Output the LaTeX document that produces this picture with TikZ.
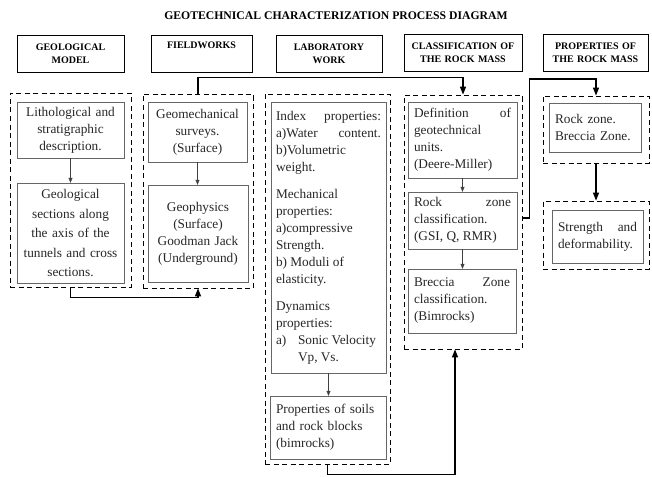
\documentclass[tikz,border=0pt]{standalone}
\usepackage{fontspec}
\setmainfont{Liberation Serif}
\usetikzlibrary{arrows.meta}

\tikzset{
  header/.style={draw, thick, align=center, inner sep=2pt,
    font=\bfseries\fontsize{10}{13}\selectfont},
  group/.style={draw, thick, dash pattern=on 5pt off 3.5pt},
  item/.style={draw=black!60, text=black!85, inner xsep=5pt, inner ysep=2pt,
    font=\fontsize{13.3}{17}\selectfont},
  flow/.style={very thick, -{Triangle[length=8pt,width=6pt]}},
  link/.style={black!75, -{Triangle[length=5pt,width=4pt]}},
  divider/.style={draw=black!70, double, double distance=1.2pt, thin},
}

\begin{document}
\begin{tikzpicture}[x=1pt,y=-1pt]
            \useasboundingbox (0,0) rectangle (652,476);
            % title and column heads
            \node[font=\bfseries\fontsize{11.7}{14}\selectfont] (title) at (336,16) {GEOTECHNICAL CHARACTERIZATION PROCESS DIAGRAM};
            \node[header, minimum width=107pt, minimum height=37pt, text width=103pt] (geoHead) at (70.5,53.5) {GEOLOGICAL\\MODEL};
            \node[header, minimum width=101pt, minimum height=37pt, text width=97pt] (fieldHead) at (201.5,53.5) {FIELDWORKS\\\strut};
            \node[header, minimum width=106pt, minimum height=37pt, text width=102pt] (labHead) at (329,53.5) {LABORATORY\\WORK};
            \node[header, minimum width=118pt, minimum height=37pt, text width=114pt] (classHead) at (463,53) {CLASSIFICATION OF\\THE ROCK MASS};
            \node[header, minimum width=105pt, minimum height=37pt, text width=101pt] (propHead) at (595.5,53) {PROPERTIES OF\\THE ROCK MASS};

            % dashed groups
            \node[group, minimum width=121pt, minimum height=194pt] (geoGroup) at (70.5,190) {};
            \node[group, minimum width=110pt, minimum height=194pt] (fieldGroup) at (198,191) {};
            \node[group, minimum width=125pt, minimum height=370pt] (labGroup) at (327.5,279) {};
            \node[group, minimum width=118pt, minimum height=254pt] (classGroup) at (463,222) {};
            \node[group, minimum width=106pt, minimum height=67pt] (zoneGroup) at (596,129.5) {};
            \node[group, minimum width=106pt, minimum height=68pt] (strengthGroup) at (596,235) {};

            % column dividers
            \draw[divider] (136,87) -- (136,288);
            \draw[divider] (258,87) -- (258,470);
            \draw[divider] (396,87) -- (396,462);
            \draw[divider, draw=black!45] (537,88) -- (537,288);

            % geological model
            \node[item, align=center, minimum width=107pt, minimum height=56pt, text width=95pt] (lithology) at (70.5,130) {Lithological and\\stratigraphic\\description.};
            \node[item, align=center, minimum width=107pt, minimum height=100pt, text width=95pt,
                  font=\fontsize{13.3}{19.5}\selectfont] (geoSections) at (70.5,233) {Geological\\sections along\\the axis of the\\tunnels and cross\\sections.};
            % fieldworks
            \node[item, align=center, minimum width=99pt, minimum height=60pt, text width=87pt] (geomech) at (197.5,132) {Geomechanical\\surveys.\\(Surface)};
            \node[item, align=center, minimum width=100pt, minimum height=97pt, text width=88pt] (geophysics) at (198,233.5) {Geophysics\\(Surface)\\Goodman Jack\\(Underground)};
            % laboratory work
            \node[item, align=justify, minimum width=115pt, minimum height=271pt, text width=105pt] (indexProps) at (328.5,237.5) {Index properties:\linebreak
                a)Water content.\linebreak
                b)Volumetric\\
                weight.\\[10pt]
                Mechanical\\
                properties:\\
                a)compressive\\
                Strength.\\
                b) Moduli of\\
                elasticity.\\[10pt]
                Dynamics\\
                properties:\\
                \makebox[22pt][l]{a)}Sonic Velocity\\
                \hspace*{22pt}Vp, Vs.};
            \node[item, align=left, minimum width=116pt, minimum height=63pt, text width=104pt] (soilProps) at (328,427.5) {Properties of soils\\and rock blocks\\(bimrocks)};
            % classification of the rock mass
            \node[item, align=justify, minimum width=109pt, minimum height=76pt, text width=97pt] (geoUnits) at (462.5,140) {Definition of\linebreak geotechnical\\units.\\(Deere-Miller)};
            \node[item, align=justify, minimum width=109pt, minimum height=57pt, text width=97pt] (rockZoneClass) at (462.5,220.5) {Rock zone\linebreak classification.\\(GSI, Q, RMR)};
            \node[item, align=justify, minimum width=108pt, minimum height=64pt, text width=96pt] (brecciaClass) at (462,301) {Breccia Zone\linebreak classification.\\(Bimrocks)};
            % properties of the rock mass
            \node[item, align=left, minimum width=92pt, minimum height=49pt, text width=80pt] (zones) at (595,127.5) {Rock zone.\\Breccia Zone.};
            \node[item, align=justify, minimum width=91pt, minimum height=53pt, text width=79pt] (strength) at (597.5,236.5) {Strength and\linebreak deformability.};

            % steps inside the groups
            \draw[link] (lithology) -- (geoSections);
            \draw[link] (geomech.south) -- (geomech.south |- geophysics.north);
            \draw[link] (indexProps.south) -- (indexProps.south |- soilProps.north);
            \draw[link] (geoUnits) -- (rockZoneClass);
            \draw[link] (rockZoneClass.south) -- (rockZoneClass.south |- brecciaClass.north);

            % flow between the groups
            \draw[flow] (geoGroup.south) -- ++(0,10) -| (fieldGroup.south);
            \draw[flow] (fieldGroup.north) -- ++(0,-16) -| (classGroup.north);
            \draw[flow] ([yshift=4pt]classGroup.east) -- ++(7,0) -- ++(0,-139) -| (zoneGroup.north);
            \draw[flow] (zoneGroup) -- (strengthGroup);
            \draw[flow] (labGroup.south) -- ++(0,10) -| ([xshift=-8pt]classGroup.south);
        \end{tikzpicture}
\end{document}
